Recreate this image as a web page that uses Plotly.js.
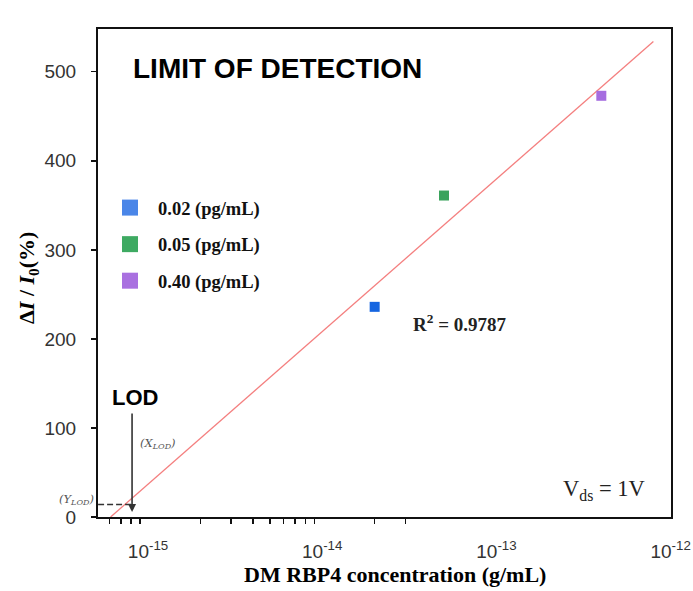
<!DOCTYPE html>
<html>
<head>
<meta charset="utf-8">
<script src="https://cdn.plot.ly/plotly-3.0.1.min.js"></script>
<style>html,body{margin:0;padding:0;background:#fff;}#chart{width:693px;height:591px;}</style>
</head>
<body>
<div id="chart"></div>
<script>
// ---- data ----
const concentration = [2e-14, 5e-14, 4e-13];          // g/mL
const response = [236, 361, 473];                      // ΔI/I0 (%)
const seriesNames = ['0.02 (pg/mL)', '0.05 (pg/mL)', '0.40 (pg/mL)'];
const pointColors = ['#1565e0', '#3aa35c', '#a66de0'];
const legendColors = ['#4a86e8', '#3eaa62', '#a970e0'];
const fitX = [6.1e-16, 7.96e-13];
const fitY = [0, 534];
const lodX = 8.1e-16;
const lodY = 14;
const lodAxisX = 5.17e-16;
const xTickVals = [1e-15, 1e-14, 1e-13, 1e-12];
const xTickText = ['10<sup>-15</sup>', '10<sup>-14</sup>', '10<sup>-13</sup>', '10<sup>-12</sup>'];
const xMinorTicks = [6e-16, 7e-16, 8e-16, 9e-16, 2e-15, 3e-15, 4e-15, 5e-15, 6e-15, 7e-15, 8e-15, 9e-15, 2e-14, 3e-14];
const yTickVals = [0, 100, 200, 300, 400, 500];
const r2Text = 'R<sup>2</sup> = 0.9787';

const traces = [];
traces.push({
  x: fitX, y: fitY, mode: 'lines', type: 'scatter',
  line: {color: '#f47f7f', width: 1.3}, showlegend: false, hoverinfo: 'skip'
});
traces.push({
  x: [lodAxisX, lodX], y: [lodY, lodY], mode: 'lines', type: 'scatter',
  line: {color: '#333', width: 1.6, dash: '6px,3px'}, showlegend: false, hoverinfo: 'skip'
});
for (let i = 0; i < concentration.length; i++) {
  traces.push({
    x: [concentration[i]], y: [response[i]], mode: 'markers', type: 'scatter',
    marker: {symbol: 'square', size: 10, color: pointColors[i]},
    showlegend: false
  });
}
for (let i = 0; i < seriesNames.length; i++) {
  traces.push({
    x: [null], y: [null], mode: 'markers', type: 'scatter', name: seriesNames[i],
    legendgroup: 'g' + i,
    marker: {symbol: 'square', size: 16, color: legendColors[i]}
  });
}

const L = Math.log10;
const layout = {
  width: 693, height: 591,
  margin: {l: 98, r: 22, t: 29, b: 74},
  paper_bgcolor: '#fff', plot_bgcolor: '#fff',
  font: {family: 'Liberation Sans, Arial, sans-serif', color: '#333'},
  showlegend: true,
  legend: {
    x: 0.007, y: 0.672, xanchor: 'left', yanchor: 'top',
    bgcolor: 'rgba(0,0,0,0)', borderwidth: 0,
    font: {family: 'Liberation Serif, Times New Roman, serif', size: 18.5, color: '#111', weight: 'bold'},
    tracegroupgap: 9.5, itemwidth: 46
  },
  xaxis: {
    type: 'log', range: [-15.287, -11.998],
    tickmode: 'array', tickvals: xTickVals, ticktext: xTickText,
    ticks: '', ticklabelstandoff: 16,
    tickfont: {size: 19, color: '#333', family: 'Liberation Sans, Arial, sans-serif'},
    minor: {tickmode: 'array', tickvals: xMinorTicks, ticks: 'outside', ticklen: 5, tickwidth: 1.5, tickcolor: '#111', showgrid: false},
    showgrid: false, zeroline: false,
    showline: true, mirror: true, linecolor: '#111', linewidth: 2
  },
  yaxis: {
    range: [0, 548], tickmode: 'array', tickvals: yTickVals,
    ticks: 'outside', ticklen: 5, tickwidth: 1.5, tickcolor: '#111',
    ticklabelstandoff: 11,
    tickfont: {size: 19, color: '#333', family: 'Liberation Sans, Arial, sans-serif'},
    showgrid: false, zeroline: false,
    showline: true, mirror: true, linecolor: '#111', linewidth: 2
  },
  annotations: [
    {xref: 'paper', yref: 'paper', x: 0.058, y: 0.92, xanchor: 'left', yanchor: 'middle',
     text: '<b>LIMIT OF DETECTION</b>', showarrow: false,
     font: {family: 'Liberation Sans, Arial, sans-serif', size: 28, color: '#000'}},
    {xref: 'x', yref: 'y', x: L(lodX) + 0.017, y: 134, xanchor: 'center', yanchor: 'middle',
     text: '<b>LOD</b>', showarrow: false,
     font: {family: 'Liberation Sans, Arial, sans-serif', size: 22, color: '#000'}},
    {xref: 'x', yref: 'y', x: L(lodX), y: lodY - 8.5, ax: 0, ay: -100, axref: 'pixel', ayref: 'pixel',
     text: '', showarrow: true, arrowhead: 2, arrowsize: 1, arrowwidth: 1.6, arrowcolor: '#333'},
    {xref: 'x', yref: 'y', x: L(lodX) + 0.15, y: 83, xanchor: 'center', yanchor: 'middle',
     text: '<i>(X<sub>LOD</sub>)</i>', showarrow: false,
     font: {family: 'DejaVu Serif, serif', size: 11.5, color: '#555'}},
    {xref: 'paper', yref: 'y', x: 0, y: lodY, xanchor: 'right', yanchor: 'middle', xshift: -2, yshift: 5,
     text: '<i>(Y<sub>LOD</sub>)</i>', showarrow: false,
     font: {family: 'DejaVu Serif, serif', size: 11.5, color: '#555'}},
    {xref: 'x', yref: 'y', x: -13.212, y: 218, xanchor: 'center', yanchor: 'middle',
     text: '<b>' + r2Text + '</b>', showarrow: false,
     font: {family: 'Liberation Serif, serif', size: 19, color: '#222'}},
    {xref: 'paper', yref: 'paper', x: 0.958, y: 0.055, xanchor: 'right', yanchor: 'middle',
     text: 'V<sub>ds</sub> = 1V', showarrow: false,
     font: {family: 'Liberation Serif, serif', size: 22.5, color: '#222'}},
    {xref: 'paper', yref: 'paper', x: 0.518, y: -0.117, xanchor: 'center', yanchor: 'middle',
     text: '<b>DM RBP4 concentration (g/mL)</b>', showarrow: false,
     font: {family: 'Liberation Serif, Times New Roman, serif', size: 22, color: '#000'}},
    {xref: 'paper', yref: 'paper', x: -0.122, y: 0.49, xanchor: 'center', yanchor: 'middle', textangle: -90,
     text: '<b>Δ<i>I</i> / <i>I</i><sub>0</sub>(%)</b>', showarrow: false,
     font: {family: 'Liberation Serif, Times New Roman, serif', size: 22, color: '#000'}}
  ]
};

Plotly.newPlot('chart', traces, layout, {displayModeBar: false, staticPlot: true});
</script>
</body>
</html>
